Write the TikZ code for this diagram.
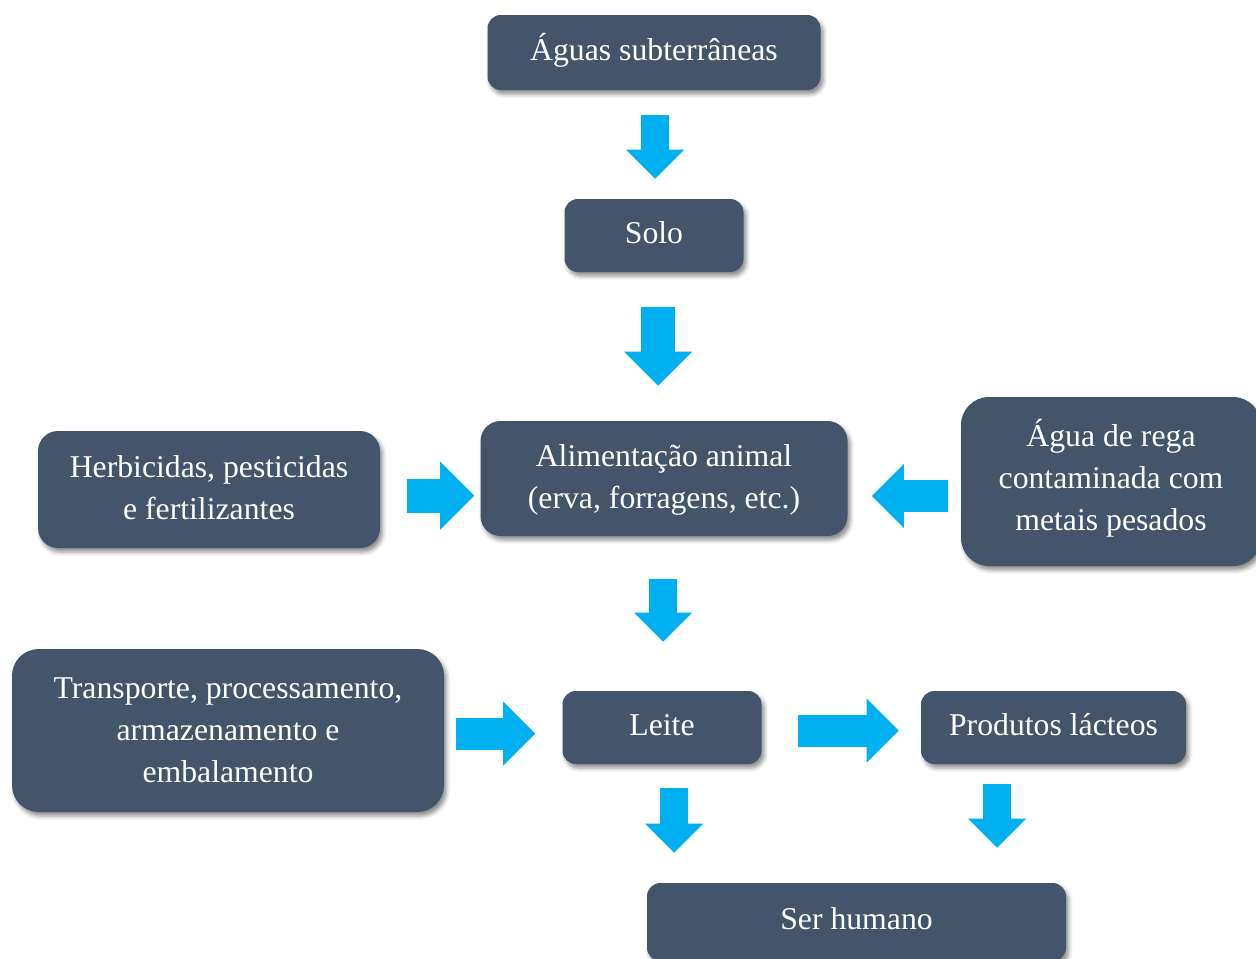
\documentclass[tikz,border=0pt]{standalone}
\usepackage{fontspec}
\setmainfont{Liberation Serif}
\usepackage{tikz}
\usetikzlibrary{shapes,arrows.meta,calc,shadows,shadows.blur}
\definecolor{boxblue}{HTML}{44546A}
\definecolor{arrowblue}{HTML}{00B0F0}
\tikzstyle{block} = [fill=boxblue, text=white, rounded corners=10pt, align=center,
    inner sep=0pt, font=\fontsize{23.8}{31.5}\selectfont,
    blur shadow={shadow xshift=2pt, shadow yshift=-3pt, shadow blur radius=3pt, shadow opacity=45}]
\tikzstyle{oneline} = [text height=16pt, text depth=4.3pt]
\tikzstyle{flow} = [draw=arrowblue, line width=21pt, -{Triangle[width=43.5pt, length=21.75pt, line width=0pt]}]
\tikzstyle{midflow} = [draw=arrowblue, line width=24pt, -{Triangle[width=48pt, length=24pt, line width=0pt]}]
\tikzstyle{bigflow} = [draw=arrowblue, line width=25.5pt, -{Triangle[width=51pt, length=25.5pt, line width=0pt]}]

\begin{document}
\begin{tikzpicture}[x=0.75pt, y=-0.75pt]
    \useasboundingbox (0,0) rectangle (1256,958);
    % We start by placing the blocks
    \node [block, oneline, minimum width=249.75pt, minimum height=56.25pt] (aguas) at (654,52.5) {Águas subterrâneas};
    \node [block, oneline, minimum width=134.25pt, minimum height=54.75pt] (solo) at (654,235.5) {Solo};
    \node [block, minimum width=275.25pt, minimum height=86.25pt, rounded corners=15pt, text depth=3pt] (alim) at (664,478.5) {Alimentação animal\\(erva, forragens, etc.)};
    \node [block, minimum width=256.5pt, minimum height=87.75pt, rounded corners=15pt, text depth=3pt] (herb) at (209,489.5) {Herbicidas, pesticidas\\e fertilizantes};
    \node [block, minimum width=225pt, minimum height=126.75pt, rounded corners=21pt, text depth=9.5pt] (rega) at (1111,481.5) {Água de rega\\contaminada com\\metais pesados};
    \node [block, minimum width=324pt, minimum height=122.25pt, rounded corners=20pt] (transp) at (228,730.5) {Transporte, processamento,\\armazenamento e\\embalamento};
    \node [block, oneline, minimum width=149.25pt, minimum height=54.75pt] (leite) at (662,727.5) {Leite};
    \node [block, oneline, minimum width=198.75pt, minimum height=54.75pt] (prod) at (1053.5,727.5) {Produtos lácteos};
    \node [block, oneline, minimum width=314.25pt, minimum height=58.5pt] (ser) at (856.5,922) {Ser humano};
    % Block arrows between the blocks
    \draw [flow] ($(aguas.south)+(1,25)$) -- ($(solo.north)+(1,-20)$);
    \draw [bigflow] ($(solo.south)+(4,35)$) -- ($(alim.north)+(-6,-35)$);
    \draw [flow] ($(alim.south)+(-1,43)$) -- ($(leite.north)+(1,-49)$);
    \draw [bigflow] ($(herb.east)+(27,6)$) -- ($(alim.west)+(-6,17)$);
    \draw [midflow] ($(rega.west)+(-13,14.5)$) -- ($(alim.east)+(24,17.5)$);
    \draw [midflow] ($(transp.east)+(12,3)$) -- ($(leite.west)+(-27,6)$);
    \draw [midflow] ($(leite.east)+(36,3)$) -- ($(prod.west)+(-22,3)$);
    \draw [flow] ($(leite.south)+(12,24)$) -- ($(leite.south |- ser.north)+(12,-30)$);
    \draw [flow] ($(prod.south)+(-56.5,20)$) -- ($(prod.south |- ser.north)+(-56.5,-35)$);
\end{tikzpicture}
\end{document}
